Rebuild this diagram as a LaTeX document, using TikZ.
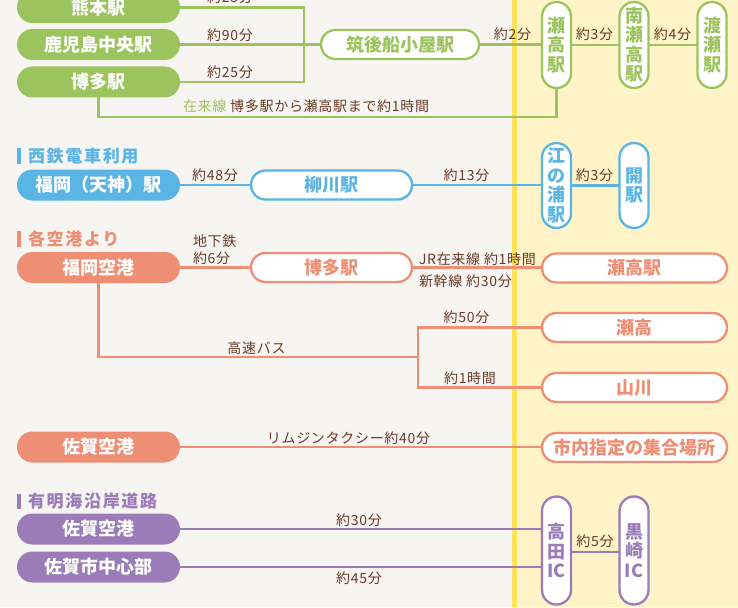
\documentclass[tikz,border=0pt]{standalone}
\usepackage{fontspec}
\setmainfont{Noto Sans CJK JP}
\newfontfamily\lfam[LetterSpace=5]{Noto Sans CJK JP}
\newfontfamily\hfam[LetterSpace=10]{Noto Sans CJK JP}
\usetikzlibrary{calc}
\definecolor{grn}{HTML}{9CC45E}
\definecolor{blu}{HTML}{5AB4E4}
\definecolor{sal}{HTML}{EE8E74}
\definecolor{pur}{HTML}{9B7BB8}
\definecolor{brn}{HTML}{6A3A28}
\definecolor{ylw}{HTML}{FCE35A}
\definecolor{rbg}{HTML}{FFF3C8}
\definecolor{lbg}{HTML}{F7F5F1}
\newcommand{\pf}{\fontsize{18}{19.5}\selectfont\bfseries}
\newcommand{\lf}{\lfam\fontsize{14}{16}\selectfont}
\newcommand{\hf}{\hfam\fontsize{17}{19}\selectfont\bfseries}
\begin{document}
\begin{tikzpicture}[x=1pt,y=-1pt,
  every node/.style={inner sep=0pt,outer sep=0pt},
  pillf/.style={rounded corners=15.5pt,minimum width=163pt,minimum height=31pt,font=\pf,text=white,text height=15.84pt,text depth=2.16pt},
  pillo/.style={rounded corners=14.5pt,minimum height=29pt,fill=white,line width=2.3pt,font=\pf,text height=15.84pt,text depth=2.16pt},
  vpill/.style={rounded corners=14.5pt,minimum width=29pt,fill=white,line width=2.3pt,font=\pf,align=center},
  lab/.style={font=\lf,text=brn,text height=12.3pt,text depth=1.7pt},
  hdr/.style={font=\hf,text height=14.96pt,text depth=2.04pt,anchor=west},
  conn/.style={line width=2.3pt}]
\useasboundingbox (0,0) rectangle (738,607);
\fill[lbg] (0,0) rectangle (512,607);
\fill[rbg] (517,0) rectangle (738,607);
\fill[ylw] (512,0) rectangle (517,607);

% ---------- green ----------
\node[pillf,fill=grn] (kuma) at (98.5,7.5) {熊本駅};
\node[pillf,fill=grn] (kago) at (98.5,44.5) {鹿児島中央駅};
\node[pillf,fill=grn] (hakataG) at (98.5,82) {博多駅};
\node[pillo,draw=grn,text=grn,minimum width=158pt] (chikugo) at (400,44.5) {筑後船小屋駅};
\node[vpill,draw=grn,text=grn,minimum height=86pt] (seko) at (556.5,45) {瀬\\高\\駅};
\node[vpill,draw=grn,text=grn,minimum height=86pt] (minami) at (634,45) {南\\瀬\\高\\駅};
\node[vpill,draw=grn,text=grn,minimum height=86pt] (wataze) at (712,45) {渡\\瀬\\駅};
\coordinate (jn) at (304,82);
\coordinate (zb) at (556.5,117);
\draw[conn,grn] (kuma.east) -| (jn) -- (hakataG.east);
\draw[conn,grn] (kago.east) -- (chikugo.west);
\draw[conn,grn] (chikugo.east) -- (chikugo.east -| seko.west);
\draw[conn,grn] (seko.east) -- (seko.east -| minami.west);
\draw[conn,grn] (minami.east) -- (minami.east -| wataze.west);
\draw[conn,grn] (hakataG.south) |- (zb) -- (seko.south);
\node[lab] (l1) at (230,-2.5) {約25分};
\node[lab] (l2) at (230,35) {約90分};
\node[lab] (l3) at (230,72) {約25分};
\node[lab] (l4) at (512.5,34) {約2分};
\node[lab] (l5) at (594.5,34) {約3分};
\node[lab] (l6) at (672.5,34) {約4分};
\node[lab,anchor=west] (l7) at (183,106.5) {{\color{grn}在来線} 博多駅から瀬高駅まで約1時間};

% ---------- blue ----------
\fill[blu] (17,148) rectangle (20.5,164);
\node[hdr,text=blu] (h1) at (28,156) {西鉄電車利用};
\node[pillf,fill=blu] (fukuten) at (98.5,185) {福岡（天神）駅};
\node[pillo,draw=blu,text=blu,minimum width=161pt] (yanagawa) at (331.5,185) {柳川駅};
\node[vpill,draw=blu,text=blu,minimum height=85pt] (enoura) at (556.5,185.5) {江\\の\\浦\\駅};
\node[vpill,draw=blu,text=blu,minimum height=85pt] (hiraki) at (634,185.5) {開\\駅};
\draw[conn,blu] (fukuten.east) -- (yanagawa.west);
\draw[conn,blu] (yanagawa.east) -- (yanagawa.east -| enoura.west);
\draw[conn,blu] (enoura.east) -- (enoura.east -| hiraki.west);
\node[lab] (l8) at (215,175) {約48分};
\node[lab] (l9) at (466.5,175.5) {約13分};
\node[lab] (l10) at (594.5,175) {約3分};

% ---------- salmon ----------
\fill[sal] (17,231) rectangle (20.5,247);
\node[hdr,text=sal] (h2) at (28,239) {各空港より};
\node[pillf,fill=sal] (fukuokaAP) at (98.5,267.5) {福岡空港};
\node[pillo,draw=sal,text=sal,minimum width=161pt] (hakataS) at (331.5,267.5) {博多駅};
\node[pillo,draw=sal,text=sal,minimum width=185pt] (sekoS) at (634.5,268) {瀬高駅};
\node[pillo,draw=sal,text=sal,minimum width=185pt] (seko2) at (634.5,327.5) {瀬高};
\node[pillo,draw=sal,text=sal,minimum width=185pt] (yamakawa) at (634.5,387.5) {山川};
\node[pillf,fill=sal] (sagaAP) at (98.5,447) {佐賀空港};
\node[pillo,draw=sal,text=sal,minimum width=185pt] (meeting) at (634.5,447.5) {市内指定の集合場所};
\coordinate (bj) at (418,357);
\draw[conn,sal] (fukuokaAP.east) -- (hakataS.west);
\draw[conn,sal] (hakataS.east) -- (hakataS.east -| sekoS.west);
\draw[conn,sal] (fukuokaAP.south) |- (bj);
\draw[conn,sal] (seko2.west) -| (bj) |- (yamakawa.west);
\draw[conn,sal] (sagaAP.east) -- (sagaAP.east -| meeting.west);
\node[lab,anchor=west] (l11) at (193,241.5) {地下鉄};
\node[lab,anchor=west] (l12) at (193,258) {約6分};
\node[lab,anchor=west] (l13) at (419,259) {JR在来線 約1時間};
\node[lab,anchor=west] (l14) at (419,281) {新幹線 約30分};
\node[lab] (l15) at (256.5,348) {高速バス};
\node[lab] (l16) at (466.5,317) {約50分};
\node[lab] (l17) at (470,378) {約1時間};
\node[lab] (l18) at (348.5,438) {リムジンタクシー約40分};

% ---------- purple ----------
\fill[pur] (17,494) rectangle (20.5,509);
\node[hdr,text=pur] (h3) at (28,501.5) {有明海沿岸道路};
\node[pillf,fill=pur] (sagaAP2) at (98.5,529) {佐賀空港};
\node[pillf,fill=pur] (sagaCity) at (98.5,567) {佐賀市中心部};
\node[vpill,draw=pur,text=pur,minimum height=108pt] (takata) at (556.5,550.5) {高\\田\\IC};
\node[vpill,draw=pur,text=pur,minimum height=108pt] (kurosaki) at (634,550.5) {黒\\崎\\IC};
\draw[conn,pur] (sagaAP2.east) -- (sagaAP2.east -| takata.west);
\draw[conn,pur] (sagaCity.east) -- (sagaCity.east -| takata.west);
\draw[conn,pur] ($(takata.east)+(0,1.5)$) -- ($(kurosaki.west)+(0,1.5)$);
\node[lab] (l19) at (359,520) {約30分};
\node[lab] (l20) at (359,578) {約45分};
\node[lab] (l21) at (595,541) {約5分};
\end{tikzpicture}
\end{document}
